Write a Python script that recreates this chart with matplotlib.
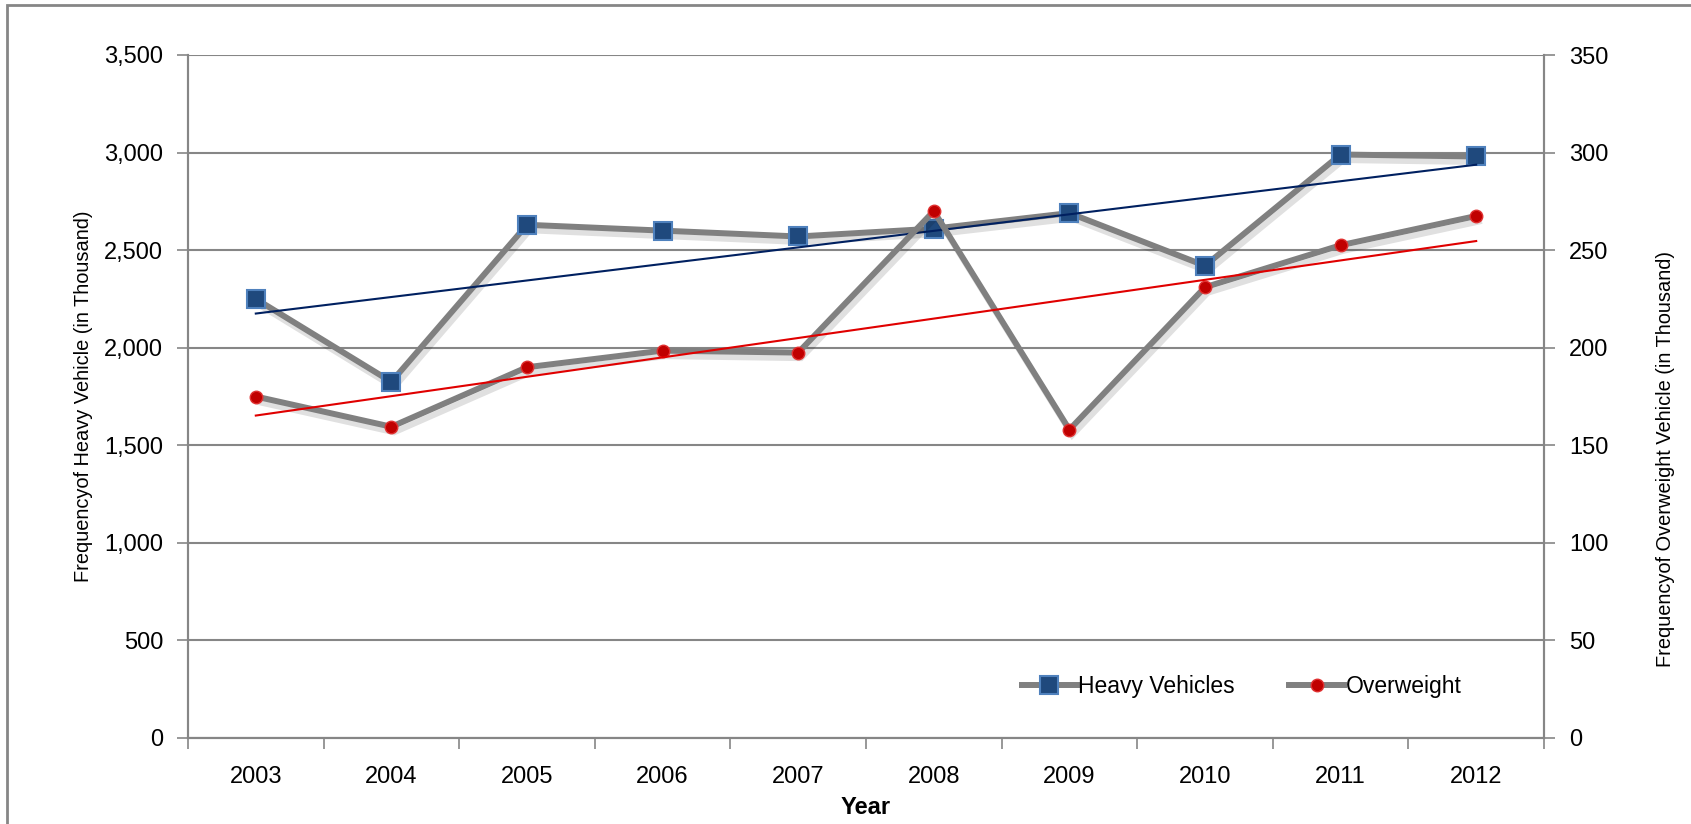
import numpy as np
import matplotlib
matplotlib.use('Agg')
import matplotlib.pyplot as plt
import matplotlib.patheffects as pe
from matplotlib.patches import Rectangle

# ------------------------
# data
# ------------------------
years = ['2003', '2004', '2005', '2006', '2007', '2008', '2009', '2010', '2011', '2012']
heavy = [2250, 1825, 2630, 2600, 2570, 2610, 2690, 2420, 2990, 2980]   # thousand
overweight = [175, 159.5, 190, 198.5, 197.5, 270, 158, 231, 252.5, 267.5]  # thousand

left_ticks = [0, 500, 1000, 1500, 2000, 2500, 3000, 3500]
right_ticks = [0, 50, 100, 150, 200, 250, 300, 350]

gridc = '#868686'
linec = '#808080'
plt.rcParams['font.family'] = ['Liberation Sans', 'DejaVu Sans']

fig = plt.figure(figsize=(16.91, 8.24), dpi=100)
ax = fig.add_axes([188/1691, 1-738/824, (1544-188)/1691, (738-55)/824])
ax2 = ax.twinx()

x = np.arange(len(years))
shadow = [pe.SimpleLineShadow(offset=(2, -4), shadow_color='#000000', alpha=0.12),
          pe.Normal()]

# heavy vehicles on left axis
ax.plot(x, heavy, color=linec, lw=4.3, solid_joinstyle='miter', zorder=3,
        path_effects=shadow)
ax.plot(x, heavy, ls='none', marker='s', ms=12.5, mfc='#1F497D', mec='#4F81BD',
        mew=1.5, zorder=4)
p = np.polyfit(x, heavy, 1)
ax.plot(x[[0, -1]], np.polyval(p, x[[0, -1]]), color='#002060', lw=1.5, zorder=5)

# overweight on right axis
ax2.plot(x, overweight, color=linec, lw=4.3, solid_joinstyle='miter', zorder=3,
         path_effects=shadow)
ax2.plot(x, overweight, ls='none', marker='o', ms=9, mfc='#C00000', mec='#E03030',
         mew=1, zorder=4)
p2 = np.polyfit(x, overweight, 1)
ax2.plot(x[[0, -1]], np.polyval(p2, x[[0, -1]]), color='#E00000', lw=1.5, zorder=5)

ax.set_xlim(-0.5, len(years) - 0.5)
ax.set_ylim(0, 3500)
ax2.set_ylim(0, 350)
ax.set_yticks(left_ticks)
ax.set_yticklabels(['{:,}'.format(v) for v in left_ticks])
ax2.set_yticks(right_ticks)
ax2.set_yticklabels([str(v) for v in right_ticks])

ax.set_xticks(x)
ax.set_xticklabels(years)
ax.set_xticks(np.arange(-0.5, len(years)), minor=True)
ax.tick_params(axis='x', which='major', length=0, pad=20, labelsize=17)
ax.tick_params(axis='x', which='minor', length=8, width=1.2, color=gridc, direction='out')
ax.tick_params(axis='y', length=8, width=1.2, color=gridc, labelsize=17, pad=10)
ax2.tick_params(axis='y', length=8, width=1.2, color=gridc, labelsize=17, pad=10)

ax.grid(axis='y', color=gridc, lw=1.5)
ax.set_axisbelow(True)
for a in (ax, ax2):
    a.spines['top'].set_visible(False)
    for s in ('left', 'right', 'bottom'):
        a.spines[s].set_color(gridc)
        a.spines[s].set_linewidth(1.5)

ax.set_xlabel('Year', fontsize=17, fontweight='bold', labelpad=6)
ax.set_ylabel('Frequencyof Heavy Vehicle (in Thousand)', fontsize=14.4, labelpad=8)
ax2.set_ylabel('Frequencyof Overweight Vehicle (in Thousand)', fontsize=14.4, labelpad=34)
ax2.yaxis.label.set_y(0.408)

# legend
h1, = ax.plot([], [], color=linec, lw=4.3, marker='s', ms=12.5, mfc='#1F497D',
              mec='#4F81BD', mew=1.5)
h2, = ax.plot([], [], color=linec, lw=4.3, marker='o', ms=9, mfc='#C00000',
              mec='#E03030', mew=1)
ax.legend([h1, h2], ['Heavy Vehicles', 'Overweight'], ncol=2, frameon=False,
          loc='center', bbox_to_anchor=(0.777, 0.076), prop={'size': 16.5},
          handlelength=2.4, handletextpad=0.05, columnspacing=2.4)

# outer chart frame (cut off by the image edges)
fig.patches.append(Rectangle((7/1691, -0.2), 1.2, 1.2 - 5/824, transform=fig.transFigure,
                             fill=False, ec=gridc, lw=2))

fig.savefig('out.png', dpi=100)
